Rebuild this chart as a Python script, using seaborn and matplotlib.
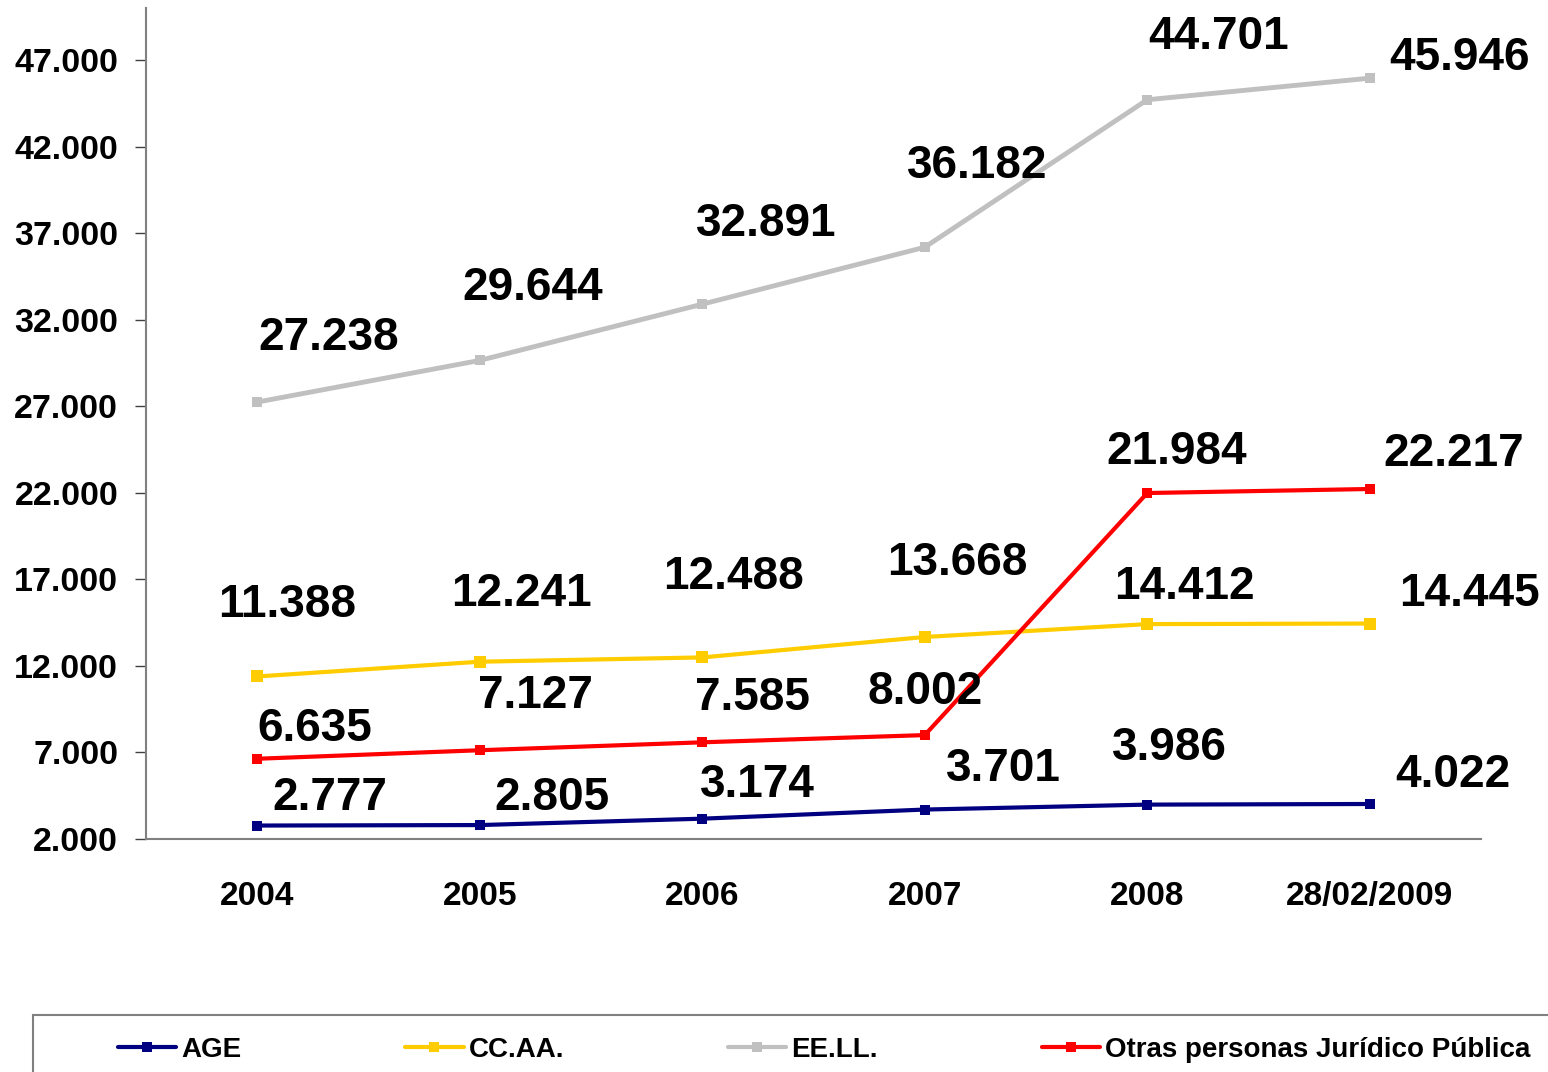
import numpy as np
import pandas as pd
import seaborn as sns
import matplotlib.pyplot as plt
from matplotlib.lines import Line2D
from matplotlib.patches import Rectangle

# data
periods = ["2004", "2005", "2006", "2007", "2008", "28/02/2009"]
series_names = ["AGE", "CC.AA.", "EE.LL.", "Otras personas Jurídico Pública"]
age = [2777, 2805, 3174, 3701, 3986, 4022]
ccaa = [11388, 12241, 12488, 13668, 14412, 14445]
eell = [27238, 29644, 32891, 36182, 44701, 45946]
otras = [6635, 7127, 7585, 8002, 21984, 22217]
y_ticks = list(range(2000, 47001, 5000))

colors = {
    "AGE": "#000080",
    "CC.AA.": "#FFCC00",
    "EE.LL.": "#C0C0C0",
    "Otras personas Jurídico Pública": "#FF0000",
}
widths = {"AGE": 3.0, "CC.AA.": 3.0, "EE.LL.": 3.5, "Otras personas Jurídico Pública": 3.0}
msizes = {"AGE": 7, "CC.AA.": 9, "EE.LL.": 7, "Otras personas Jurídico Pública": 7}

# label offsets in pixels (left edge of text, vertical centre) relative to point
label_offsets = {
    "AGE": [(15, -28), (15, -27), (-2, -34), (21, -41), (-35, -57), (25, -29)],
    "CC.AA.": [(-39, -71), (-29, -68), (-39, -80), (-38, -74), (-33, -37), (29, -30)],
    "EE.LL.": [(1, -64), (-17, -72), (-6, -80), (-18, -81), (1, -63), (19, -20)],
    "Otras personas Jurídico Pública": [(0, -30), (-2, -54), (-7, -44), (-57, -43), (-41, -41), (14, -35)],
}

values = {
    "AGE": age,
    "CC.AA.": ccaa,
    "EE.LL.": eell,
    "Otras personas Jurídico Pública": otras,
}

rows = []
for name in series_names:
    for p, v in zip(periods, values[name]):
        rows.append({"periodo": p, "valor": v, "serie": name})
df = pd.DataFrame(rows)


def es_fmt(v):
    return f"{v:,}".replace(",", ".")


sns.set_style("white")
plt.rcParams["font.family"] = ["Liberation Sans", "DejaVu Sans"]
plt.rcParams["font.weight"] = "bold"
plt.rcParams["text.color"] = "black"
plt.rcParams["xtick.labelcolor"] = "black"
plt.rcParams["ytick.labelcolor"] = "black"

fig = plt.figure(figsize=(15.48, 10.72), dpi=100)
ax = fig.add_axes([146 / 1548, 1 - 839 / 1072, (1481 - 146) / 1548, (839 - 8) / 1072])

for name in series_names:
    sub = df[df["serie"] == name]
    sns.lineplot(
        data=sub, x="periodo", y="valor", ax=ax, sort=False,
        color=colors[name], linewidth=widths[name],
        marker="s", markersize=msizes[name], markeredgewidth=0,
        legend=False,
    )

for name in series_names:
    for i, v in enumerate(values[name]):
        dx, dy = label_offsets[name][i]
        ax.annotate(
            es_fmt(v), xy=(i, v), xytext=(dx, -dy), textcoords="offset pixels",
            ha="left", va="center", fontsize=33, fontweight="bold", color="black",
        )

ax.set_xlim(-0.5, 5.5)
ax.set_ylim(2000, 50000)
ax.set_yticks(y_ticks)
ax.set_yticklabels([es_fmt(t) for t in y_ticks], fontsize=24.5, fontweight="bold", color="black")
ax.set_xticks(range(len(periods)))
ax.set_xticklabels(periods, fontsize=24, fontweight="bold", color="black")
ax.set_xticks(np.arange(-0.5, 6, 1), minor=True)
ax.tick_params(axis="x", which="major", length=0, pad=30)
ax.tick_params(axis="x", which="minor", length=8, width=1, color="#404040", direction="out")
ax.tick_params(axis="y", length=8, width=1, color="#404040", direction="out", pad=12, left=True)
ax.set_xlabel("")
ax.set_ylabel("")

for side in ["top", "right"]:
    ax.spines[side].set_visible(False)
for side in ["left", "bottom"]:
    ax.spines[side].set_color("#808080")
    ax.spines[side].set_linewidth(1.5)

# legend box, clipped at the figure border as in the original
fig.patches.append(Rectangle(
    (33 / 1548, -0.2), 1.2, 0.2 + (1 - 1015 / 1072),
    transform=fig.transFigure, facecolor="none", edgecolor="#808080",
    linewidth=1.5, clip_on=False,
))

handles = [
    Line2D([0], [0], color=colors[n], linewidth=3, marker="s", markersize=7, markeredgewidth=0)
    for n in series_names
]
fig.legend(
    handles, series_names, loc="center left", bbox_to_anchor=(104 / 1548, 1 - 1050 / 1072),
    ncol=4, frameon=False, borderpad=0, handlelength=2.1, handletextpad=0.18,
    columnspacing=5.9, prop={"size": 20, "weight": "bold"}, labelcolor="black",
)

fig.savefig("out.png", dpi=100)
plt.close(fig)
